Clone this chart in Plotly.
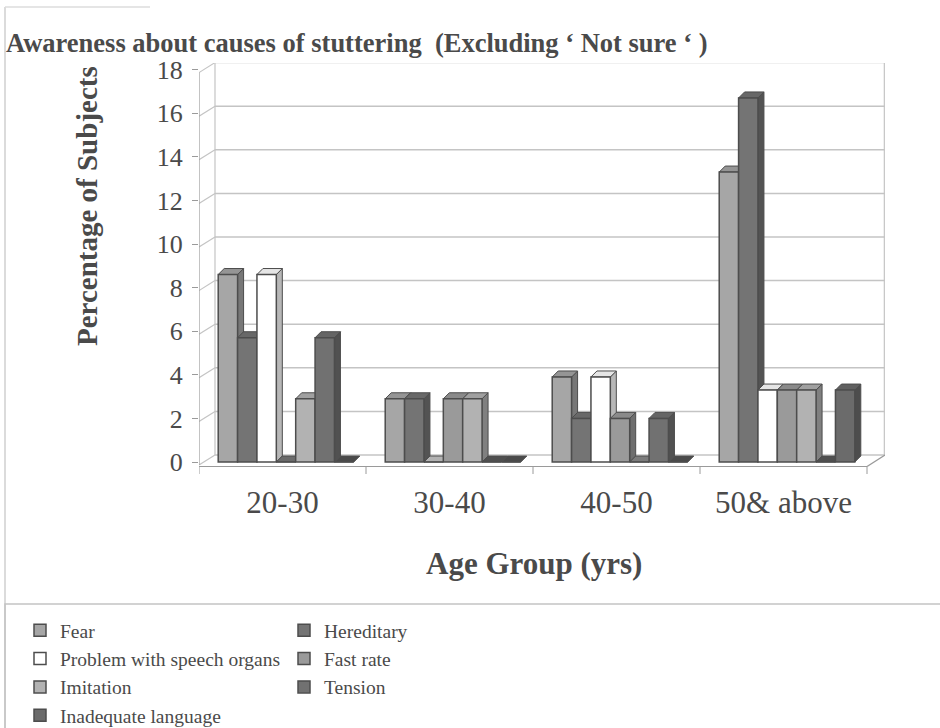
import plotly.graph_objects as go

# ---- data -------------------------------------------------------------
categories = ["20-30", "30-40", "40-50", "50& above"]
fear = [8.6, 2.9, 3.9, 13.3]
hereditary = [5.7, 2.9, 2.0, 16.7]
speech_organs = [8.6, 0, 3.9, 3.3]
fast_rate = [0, 2.9, 2.0, 3.3]
imitation = [2.9, 2.9, 0, 3.3]
tension = [5.7, 0, 2.0, 0]
inadequate_language = [0, 0, 0, 3.3]

series_names = ["Fear", "Hereditary", "Problem with speech organs", "Fast rate",
                "Imitation", "Tension", "Inadequate language"]
series_values = [fear, hereditary, speech_organs, fast_rate,
                 imitation, tension, inadequate_language]
y_ticks = [0, 2, 4, 6, 8, 10, 12, 14, 16, 18]

# ---- styling ----------------------------------------------------------
series_colors = ["#a6a6a6", "#747474", "#ffffff", "#9a9a9a", "#b2b2b2", "#717171", "#6b6b6b"]
series_legend = ["legend", "legend2", "legend", "legend2", "legend", "legend2", "legend"]
SERIF = "Liberation Serif, Times New Roman, serif"
TEXT = "#4a4a4a"
EDGE = "#4d4d4d"
GRID = "#c4c4c4"

W, H = 940, 728
L, R, T, B = 199, 885, 63, 467          # plot box in pixels
PX_PER_UNIT = 21.8                       # vertical scale
CAT_PX = 167.0                           # width of one category
X_MAX = -0.5 + (R - L) / CAT_PX
Y_MIN = -5 / PX_PER_UNIT
Y_MAX = Y_MIN + (B - T) / PX_PER_UNIT

GROUP_START = -0.385                     # left edge of first bar, rel. to category centre
BAR_W = 0.116                            # width of one bar in category units
DX = 6 / CAT_PX                          # oblique depth of the bars
DY = 6 / PX_PER_UNIT
WALL_DX = 16 / CAT_PX                    # depth of the back wall
WALL_DY = 7 / PX_PER_UNIT
FRONT_DY = -3 / PX_PER_UNIT


def px_x(p):
    return (p - L) / (R - L)


def px_y(p):
    return (B - p) / (B - T)


def shade(hex_color, f):
    h = hex_color.lstrip("#")
    r, g, b = (int(h[i:i + 2], 16) for i in (0, 2, 4))
    return "#%02x%02x%02x" % (int(r * f), int(g * f), int(b * f))


fig = go.Figure()

# front faces of the bars
for k, (name, vals) in enumerate(zip(series_names, series_values)):
    fig.add_trace(go.Bar(
        name=name,
        x=list(range(len(categories))),
        y=vals,
        width=BAR_W,
        offset=GROUP_START + k * BAR_W,
        marker=dict(color=series_colors[k], line=dict(color=EDGE, width=1.5)),
        legend=series_legend[k],
        hoverinfo="name+y",
    ))

shapes = []

# back wall, left wall and floor
for g in y_ticks:
    shapes.append(dict(type="line", xref="x", yref="y", layer="below",
                       x0=-0.5 + WALL_DX, x1=X_MAX, y0=g + WALL_DY, y1=g + WALL_DY,
                       line=dict(color=GRID, width=1.5)))
    shapes.append(dict(type="line", xref="x", yref="y", layer="below",
                       x0=-0.5, x1=-0.5 + WALL_DX, y0=g + FRONT_DY, y1=g + WALL_DY,
                       line=dict(color=GRID, width=1.2)))
shapes.append(dict(type="line", xref="x", yref="y", layer="below",
                   x0=-0.5 + WALL_DX, x1=-0.5 + WALL_DX, y0=WALL_DY, y1=y_ticks[-1] + WALL_DY,
                   line=dict(color=GRID, width=1.2)))
shapes.append(dict(type="line", xref="x", yref="y", layer="below",
                   x0=X_MAX - 0.004, x1=X_MAX - 0.004, y0=WALL_DY, y1=y_ticks[-1] + WALL_DY,
                   line=dict(color=GRID, width=1.2)))
shapes.append(dict(type="line", xref="x", yref="y", layer="below",
                   x0=-0.5, x1=-0.5, y0=FRONT_DY, y1=y_ticks[-1] + FRONT_DY,
                   line=dict(color="#9a9a9a", width=1.2)))
shapes.append(dict(type="line", xref="x", yref="y", layer="below",
                   x0=-0.5, x1=len(categories) - 0.5, y0=Y_MIN + 0.02, y1=Y_MIN + 0.02,
                   line=dict(color="#9a9a9a", width=1.2)))
shapes.append(dict(type="line", xref="x", yref="y", layer="below",
                   x0=len(categories) - 0.5, x1=X_MAX, y0=Y_MIN + 0.02, y1=WALL_DY,
                   line=dict(color="#9a9a9a", width=1.2)))
for b in range(len(categories) + 1):
    shapes.append(dict(type="line", xref="x", yref="paper",
                       x0=b - 0.5, x1=b - 0.5, y0=0, y1=px_y(B + 7),
                       line=dict(color="#9a9a9a", width=1)))

# side and top faces giving the bars their depth
for i in range(len(categories)):
    for k, vals in enumerate(series_values):
        v = vals[i]
        xl = i + GROUP_START + k * BAR_W
        xr = xl + BAR_W
        col = series_colors[k]
        if v > 0:
            shapes.append(dict(
                type="path", xref="x", yref="y", layer="between",
                path=f"M{xr},0 L{xr + DX},{DY} L{xr + DX},{v + DY} L{xr},{v} Z",
                fillcolor=shade(col, 0.72), line=dict(color=EDGE, width=1)))
        shapes.append(dict(
            type="path", xref="x", yref="y", layer="between",
            path=f"M{xl},{v} L{xr},{v} L{xr + DX},{v + DY} L{xl + DX},{v + DY} Z",
            fillcolor=shade(col, 0.9 if v > 0 else 0.7), line=dict(color=EDGE, width=1)))

# chart frame and legend box
shapes.append(dict(type="line", xref="paper", yref="paper",
                   x0=px_x(5), x1=px_x(5), y0=px_y(7), y1=px_y(730),
                   line=dict(color="#cfcfcf", width=1.5)))
shapes.append(dict(type="line", xref="paper", yref="paper",
                   x0=px_x(5), x1=px_x(150), y0=px_y(7), y1=px_y(7),
                   line=dict(color="#dcdcdc", width=1.5)))
shapes.append(dict(type="rect", xref="paper", yref="paper",
                   x0=px_x(5), x1=px_x(950), y0=px_y(604), y1=px_y(745),
                   line=dict(color="#c4c4c4", width=1.5)))

annotations = [
    dict(text="Awareness about causes of stuttering \u00a0(Excluding \u2018 Not sure \u2018 )",
         xref="paper", yref="paper", x=px_x(4), y=px_y(43), xanchor="left", yanchor="middle",
         showarrow=False, font=dict(family=SERIF, size=26.5, color=TEXT, weight="bold")),
    dict(text="Percentage of Subjects", textangle=-90,
         xref="paper", yref="paper", x=px_x(87), y=px_y(206), xanchor="center", yanchor="middle",
         showarrow=False, font=dict(family=SERIF, size=29, color=TEXT, weight="bold")),
    dict(text="Age Group (yrs)",
         xref="paper", yref="paper", x=px_x(534), y=px_y(563), xanchor="center", yanchor="middle",
         showarrow=False, font=dict(family=SERIF, size=31, color=TEXT, weight="bold")),
]

legend_style = dict(orientation="v", xanchor="left", yanchor="top",
                    font=dict(family=SERIF, size=19.5, color=TEXT),
                    bgcolor="rgba(0,0,0,0)", tracegroupgap=0, traceorder="normal")

fig.update_layout(
    width=W, height=H,
    margin=dict(l=L, r=W - R, t=T, b=H - B, autoexpand=False),
    paper_bgcolor="white", plot_bgcolor="white",
    barmode="overlay",
    shapes=shapes,
    annotations=annotations,
    legend=dict(x=px_x(20), y=px_y(611), **legend_style),
    legend2=dict(x=px_x(284), y=px_y(611), **legend_style),
    xaxis=dict(range=[-0.5, X_MAX], tickmode="array", tickvals=list(range(len(categories))),
               ticktext=categories, ticks="", showgrid=False, zeroline=False, showline=False,
               tickfont=dict(family=SERIF, size=31, color=TEXT), ticklabelstandoff=14),
    yaxis=dict(range=[Y_MIN, Y_MAX], tickmode="array", tickvals=y_ticks, ticks="outside",
               ticklen=6, tickcolor="#9a9a9a", showgrid=False, zeroline=False, showline=False,
               tickfont=dict(family=SERIF, size=26, color=TEXT), ticklabelstandoff=4),
    showlegend=True,
)

fig.write_html("out.html")
